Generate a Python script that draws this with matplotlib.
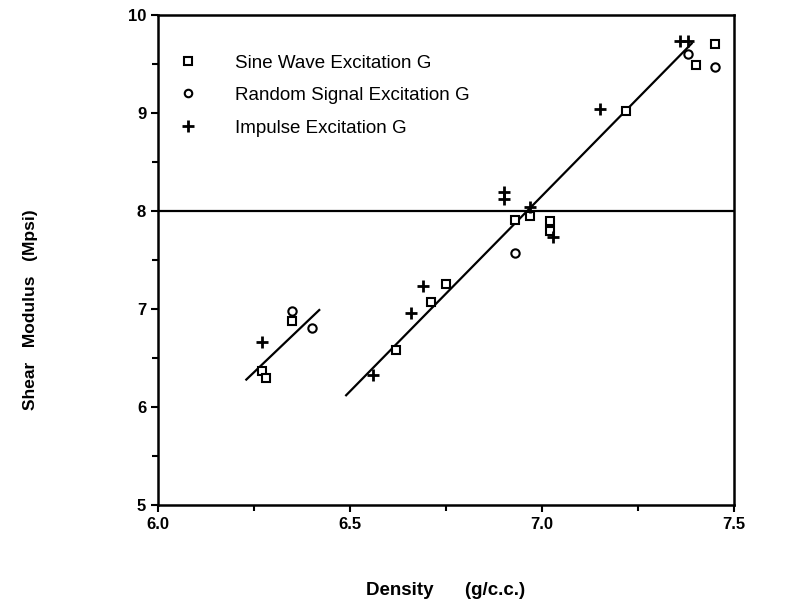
import matplotlib
matplotlib.use("Agg")
import matplotlib.pyplot as plt
import numpy as np

# readings
sine_x = [6.27, 6.28, 6.35, 6.62, 6.71, 6.75, 6.93, 6.97, 7.02, 7.02, 7.22, 7.40, 7.45]
sine_y = [6.37, 6.30, 6.88, 6.58, 7.07, 7.26, 7.91, 7.95, 7.90, 7.80, 9.02, 9.49, 9.70]

random_x = [6.35, 6.40, 6.93, 7.38, 7.45]
random_y = [6.98, 6.81, 7.57, 9.60, 9.47]

impulse_x = [6.27, 6.56, 6.66, 6.69, 6.90, 6.90, 6.97, 7.03, 7.15, 7.36, 7.38]
impulse_y = [6.66, 6.33, 6.96, 7.24, 8.19, 8.12, 8.04, 7.74, 9.04, 9.74, 9.74]

# hand-drawn fit lines (end points)
fit_low_x = [6.23, 6.42]
fit_low_y = [6.28, 6.99]
fit_high_x = [6.49, 7.39]
fit_high_y = [6.12, 9.71]

ref_level = 8.0

labels = ["Sine Wave Excitation G", "Random Signal Excitation G", "Impulse Excitation G"]


def main():
    plt.rcParams["font.family"] = ["Liberation Sans", "DejaVu Sans"]
    fig = plt.figure(figsize=(7.90, 6.03), dpi=100)
    ax = fig.add_axes([0.2, 0.1625, 0.729, 0.8125])

    ax.plot(fit_low_x, fit_low_y, color="black", lw=1.6)
    ax.plot(fit_high_x, fit_high_y, color="black", lw=1.6)
    ax.axhline(ref_level, color="black", lw=1.6)

    h1, = ax.plot(sine_x, sine_y, "s", ms=6, mfc="white", mec="black", mew=1.5,
                  ls="none", label=labels[0])
    h2, = ax.plot(random_x, random_y, "o", ms=6, mfc="white", mec="black", mew=1.5,
                  ls="none", label=labels[1])
    h3, = ax.plot(impulse_x, impulse_y, "+", ms=9, color="black", mew=2,
                  ls="none", label=labels[2])

    ax.legend(handles=[h1, h2, h3], loc="upper left", bbox_to_anchor=(0.023, 0.935),
              borderaxespad=0, frameon=False, fontsize=13.5, handlelength=1.0,
              handletextpad=2.0, labelspacing=0.82, markerscale=0.9)

    ax.set_xlim(6.0, 7.5)
    ax.set_ylim(5, 10)
    ax.set_xticks([6.0, 6.5, 7.0, 7.5])
    ax.set_xticks(np.arange(6.0, 7.51, 0.25), minor=True)
    ax.set_yticks([5, 6, 7, 8, 9, 10])
    ax.set_yticks(np.arange(5, 10.01, 0.5), minor=True)
    ax.tick_params(which="both", direction="out", width=1.5, labelsize=12)
    ax.tick_params(which="major", length=5)
    ax.tick_params(which="minor", length=4)
    for lab in ax.get_xticklabels() + ax.get_yticklabels():
        lab.set_fontweight("bold")
    for sp in ax.spines.values():
        sp.set_linewidth(1.8)

    ax.set_xlabel("Density      (g/c.c.)", fontsize=13.5, fontweight="bold", labelpad=36)
    fig.text(0.038, 0.487, "Shear   Modulus   (Mpsi)", rotation=90, ha="center",
             va="center", fontsize=12.5, fontweight="bold")

    fig.savefig("out.png", dpi=100)


if __name__ == "__main__":
    main()
